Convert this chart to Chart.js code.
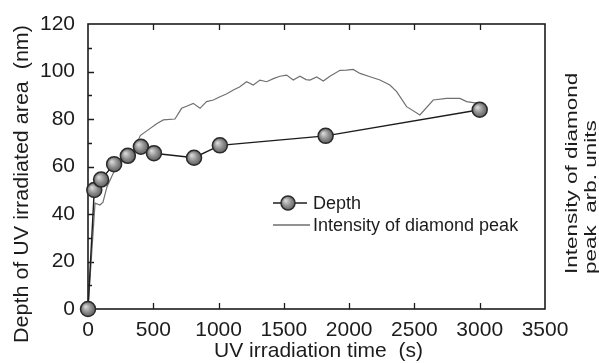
<!DOCTYPE html>
<html>
<head>
<meta charset="utf-8">
<script src="https://cdn.jsdelivr.net/npm/chart.js@4.4.1/dist/chart.umd.min.js"></script>
<style>
  html, body { margin: 0; padding: 0; background: #fff; }
  #wrap { width: 599px; height: 363px; }
</style>
</head>
<body>
<div id="wrap"><canvas id="chart" width="599" height="363"></canvas></div>
<script>
// depth of UV irradiated area (nm) vs time (s)
const depthTimes = [0, 48, 100, 200, 305, 405, 505, 812, 1010, 1820, 3000];
const depthValues = [0, 50.1, 54.5, 61, 64.5, 68.3, 65.6, 63.7, 68.9, 72.9, 83.9];

// intensity of diamond peak (arb. units), traced along the same y scale
const intensityTimes = [0, 54, 92, 115, 145, 200, 260, 320, 370, 400, 450, 526, 577, 666, 717, 760, 806, 858, 908, 960, 1011, 1060, 1113, 1160, 1215, 1266, 1317, 1368, 1420, 1470, 1521, 1572, 1623, 1670, 1700, 1751, 1802, 1853, 1930, 1980, 2031, 2083, 2160, 2236, 2312, 2364, 2440, 2542, 2644, 2747, 2848, 2900, 2989];
const intensityValues = [0, 44.6, 43.8, 45, 51.4, 58, 62, 65, 69, 73, 75, 78, 79.6, 80, 84.5, 85.5, 86.6, 84.5, 87.3, 88, 89.4, 90.5, 92.2, 93.5, 95.7, 94.3, 96.4, 95.7, 97, 98, 98.5, 96.4, 98, 96.6, 96.4, 97.7, 96, 98, 100.5, 100.6, 100.9, 99.2, 97.8, 96.4, 94.3, 91.5, 85.2, 81.7, 88, 88.7, 88.7, 87.3, 86.6];

const xTicks = [0, 500, 1000, 1500, 2000, 2500, 3000, 3500];
const yTicks = [0, 20, 40, 60, 80, 100, 120];

const FONT = "'Liberation Sans', Arial, sans-serif";
const INK = '#1c1c1c';

function ballFill(ctx) {
    const chart = ctx.chart;
    const c = chart.ctx;
    if (ctx.raw == null || !chart.scales.x) return '#8a8a8a';
    const px = chart.scales.x.getPixelForValue(ctx.raw.x);
    const py = chart.scales.y.getPixelForValue(ctx.raw.y);
    if (!isFinite(px) || !isFinite(py)) return '#8a8a8a';
    const g = c.createRadialGradient(px - 2.5, py - 2.5, 0.5, px, py, 8);
    g.addColorStop(0, '#d8d8d8');
    g.addColorStop(0.55, '#8c8c8c');
    g.addColorStop(1, '#5a5a5a');
    return g;
}

// frame + inward ticks, drawn under the markers
const framePlugin = {
    id: 'frame',
    beforeDatasetsDraw(chart) {
        const { ctx, chartArea: a, scales } = chart;
        ctx.save();
        ctx.strokeStyle = INK;
        ctx.lineWidth = 1.6;
        ctx.strokeRect(a.left, a.top, a.right - a.left, a.bottom - a.top);
        ctx.lineWidth = 1.3;
        ctx.beginPath();
        xTicks.forEach(v => {
            if (v === 0 || v === 3500) return;
            const x = Math.round(scales.x.getPixelForValue(v)) + 0.5;
            ctx.moveTo(x, a.bottom); ctx.lineTo(x, a.bottom - 6);
            ctx.moveTo(x, a.top); ctx.lineTo(x, a.top + 6);
        });
        for (let v = 10; v < 120; v += 10) {
            const y = Math.round(scales.y.getPixelForValue(v)) + 0.5;
            const len = v % 20 === 0 ? 6 : 4;
            ctx.moveTo(a.left, y); ctx.lineTo(a.left + len, y);
        }
        ctx.stroke();
        ctx.restore();
    }
};

// axis titles and the legend box
const textPlugin = {
    id: 'texts',
    afterDraw(chart) {
        const { ctx, chartArea: a } = chart;
        ctx.save();
        ctx.fillStyle = INK;

        // x title
        ctx.font = '21px ' + FONT;
        ctx.textAlign = 'center';
        ctx.textBaseline = 'middle';
        ctx.fillText('UV irradiation time  (s)', (a.left + a.right) / 2 + 2, 351);

        // left title
        ctx.save();
        ctx.translate(23, 184);
        ctx.rotate(-Math.PI / 2);
        ctx.scale(1, 0.9);
        ctx.font = '21.5px ' + FONT;
        ctx.fillText('Depth of UV irradiated area  (nm)', 0, 0);
        ctx.restore();

        // right title, two lines, start aligned at the bottom
        ctx.save();
        ctx.translate(577, 274);
        ctx.rotate(-Math.PI / 2);
        ctx.scale(1, 0.74);
        ctx.font = '22.5px ' + FONT;
        ctx.textAlign = 'left';
        ctx.textBaseline = 'alphabetic';
        ctx.fillText('Intensity of diamond', 0, 0);
        ctx.fillText('peak  arb. units', 0, 25);
        ctx.restore();

        // legend
        ctx.font = '18px ' + FONT;
        ctx.textAlign = 'left';
        ctx.textBaseline = 'middle';
        ctx.strokeStyle = INK;
        ctx.lineWidth = 1.4;
        ctx.beginPath();
        ctx.moveTo(273, 203); ctx.lineTo(307, 203);
        ctx.stroke();
        const g = ctx.createRadialGradient(285.5, 200.5, 0.5, 288, 203, 8);
        g.addColorStop(0, '#d8d8d8');
        g.addColorStop(0.55, '#8c8c8c');
        g.addColorStop(1, '#5a5a5a');
        ctx.fillStyle = g;
        ctx.beginPath();
        ctx.arc(288, 203, 7, 0, Math.PI * 2);
        ctx.fill();
        ctx.lineWidth = 1.5;
        ctx.strokeStyle = '#2a2a2a';
        ctx.stroke();
        ctx.fillStyle = INK;
        ctx.fillText('Depth', 313, 204);

        ctx.strokeStyle = '#6e6e6e';
        ctx.lineWidth = 1.3;
        ctx.beginPath();
        ctx.moveTo(273, 225); ctx.lineTo(310, 225);
        ctx.stroke();
        ctx.fillText('Intensity of diamond peak', 313, 226);
        ctx.restore();
    }
};

const depthPoints = depthTimes.map((t, i) => ({ x: t, y: depthValues[i] }));
const intensityPoints = intensityTimes.map((t, i) => ({ x: t, y: intensityValues[i] }));

new Chart(document.getElementById('chart'), {
    type: 'scatter',
    data: {
        datasets: [{
            label: 'Depth',
            data: depthPoints,
            showLine: true,
            borderColor: INK,
            borderWidth: 1.4,
            pointRadius: 7.5,
            pointBorderWidth: 1.5,
            pointBorderColor: '#2a2a2a',
            pointBackgroundColor: ballFill,
            clip: false
        }, {
            label: 'Intensity of diamond peak',
            data: intensityPoints,
            showLine: true,
            borderColor: '#707070',
            borderWidth: 1.2,
            pointRadius: 0,
            tension: 0
        }]
    },
    options: {
        responsive: false,
        devicePixelRatio: 1,
        animation: false,
        events: [],
        layout: { padding: { top: 24, right: 54, left: 0, bottom: 0 } },
        plugins: { legend: { display: false }, tooltip: { enabled: false } },
        scales: {
            x: {
                type: 'linear',
                min: 0, max: 3500,
                afterBuildTicks: s => { s.ticks = xTicks.map(v => ({ value: v })); },
                afterFit: s => { s.height = 54; },
                grid: { display: false },
                border: { display: false },
                ticks: { color: INK, font: { family: FONT, size: 21 }, padding: 1, maxRotation: 0, callback: v => String(v) }
            },
            y: {
                type: 'linear',
                min: 0, max: 120,
                afterBuildTicks: s => { s.ticks = yTicks.map(v => ({ value: v })); },
                afterFit: s => { s.width = 88; },
                grid: { display: false },
                border: { display: false },
                ticks: { color: INK, font: { family: FONT, size: 21 }, padding: 5, callback: v => String(v) }
            }
        }
    },
    plugins: [framePlugin, textPlugin]
});
</script>
</body>
</html>
